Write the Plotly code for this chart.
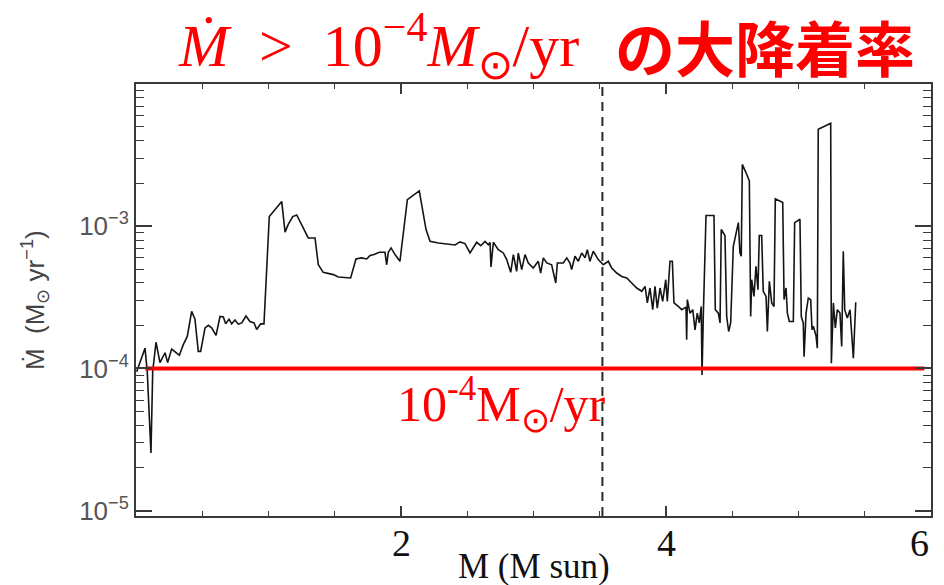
import plotly.graph_objects as go

# Stellar mass (M_sun) along the accretion history
mass = [0.005, 0.068, 0.085, 0.113, 0.126, 0.151, 0.181, 0.219, 0.239, 0.269,
        0.327, 0.357, 0.387, 0.420, 0.445, 0.470, 0.488, 0.521, 0.546, 0.571,
        0.604, 0.634, 0.659, 0.677, 0.702, 0.722, 0.747, 0.772, 0.798, 0.830,
        0.860, 0.891, 0.911, 0.941, 0.966, 1.006, 1.100, 1.125, 1.149, 1.183,
        1.213, 1.251, 1.300, 1.351, 1.376, 1.413, 1.459, 1.489, 1.527, 1.620,
        1.660, 1.703, 1.741, 1.766, 1.796, 1.836, 1.879, 1.892, 1.904, 1.925,
        1.955, 1.992, 2.048, 2.138, 2.189, 2.219, 2.282, 2.408, 2.445, 2.483,
        2.521, 2.571, 2.602, 2.634, 2.659, 2.672, 2.679, 2.697, 2.734, 2.772,
        2.798, 2.828, 2.848, 2.873, 2.885, 2.911, 2.936, 2.961, 2.998, 3.036,
        3.054, 3.074, 3.100, 3.137, 3.168, 3.180, 3.225, 3.251, 3.275, 3.288,
        3.313, 3.338, 3.364, 3.389, 3.406, 3.426, 3.451, 3.489, 3.527, 3.565,
        3.590, 3.628, 3.666, 3.704, 3.741, 3.779, 3.817, 3.842, 3.859, 3.879,
        3.900, 3.917, 3.934, 3.955, 3.975, 3.998, 4.010, 4.030, 4.048, 4.060,
        4.093, 4.119, 4.151, 4.156, 4.161, 4.181, 4.202, 4.219, 4.236, 4.251,
        4.266, 4.272, 4.282, 4.302, 4.362, 4.372, 4.395, 4.408, 4.417, 4.445,
        4.458, 4.473, 4.488, 4.508, 4.546, 4.558, 4.568, 4.576, 4.609, 4.629,
        4.639, 4.647, 4.664, 4.679, 4.694, 4.704, 4.722, 4.734, 4.755, 4.765,
        4.780, 4.798, 4.815, 4.825, 4.881, 4.891, 4.906, 4.916, 4.931, 4.961,
        4.971, 5.011, 5.021, 5.036, 5.042, 5.057, 5.074, 5.092, 5.102, 5.112,
        5.132, 5.142, 5.149, 5.243, 5.248, 5.263, 5.278, 5.293, 5.313, 5.326,
        5.338, 5.349, 5.368, 5.389, 5.414, 5.432]

# Accretion rate in units of 1e-4 M_sun/yr
mdot_e4 = [0.95, 1.39, 0.95, 0.255, 0.95, 1.53, 1.10, 1.29, 1.10, 1.37,
           1.24, 1.47, 1.68, 2.52, 2.22, 1.32, 1.32, 1.93, 2.01, 1.93,
           1.71, 2.32, 2.30, 2.06, 2.22, 2.06, 2.19, 2.05, 2.09, 2.34,
           2.14, 2.09, 1.88, 2.06, 2.06, 11.7, 14.9, 9.1, 10.3, 11.7,
           12.0, 10.3, 8.27, 8.27, 5.36, 4.74, 4.62, 4.57, 4.40, 4.33,
           5.89, 5.99, 5.89, 6.22, 6.32, 6.56, 6.56, 5.36, 6.56, 7.04,
           6.32, 5.67, 15.4, 17.7, 9.48, 7.83, 7.63, 7.38, 7.76, 7.55,
           6.49, 7.71, 7.30, 7.83, 7.40, 7.68, 5.18, 7.71, 6.85, 6.49,
           5.83, 4.74, 6.32, 4.82, 6.49, 4.96, 6.32, 5.52, 5.09, 5.67,
           4.69, 5.99, 5.52, 5.36, 3.99, 5.52, 5.52, 5.99, 5.52, 4.96,
           6.15, 5.67, 6.49, 5.99, 6.85, 5.67, 6.67, 5.83, 5.36, 5.67,
           5.09, 4.69, 4.44, 4.33, 3.99, 3.68, 3.49, 3.78, 2.89, 3.68,
           2.59, 3.78, 2.66, 3.68, 2.96, 4.21, 2.96, 5.67, 5.67, 2.89,
           2.73, 2.59, 2.70, 1.59, 3.05, 2.45, 2.59, 1.87, 2.45, 2.09,
           2.73, 0.90, 2.45, 11.9, 11.9, 2.59, 2.45, 2.09, 9.48, 8.6,
           2.32, 1.82, 2.09, 7.22, 10.6, 6.49, 6.15, 27.2, 23.2, 20.8,
           2.32, 4.21, 3.21, 5.23, 3.58, 8.6, 8.6, 3.49, 3.21, 1.82,
           4.10, 2.89, 2.73, 15.6, 14.7, 3.05, 3.68, 2.45, 2.14, 2.14,
           10.6, 11.2, 2.32, 2.09, 1.21, 2.45, 3.13, 3.05, 1.87, 1.98,
           1.70, 1.39, 48.0, 52.9, 1.09, 2.89, 1.93, 2.59, 2.45, 1.43,
           6.67, 2.59, 2.26, 2.59, 1.18, 2.92]

mdot = [v * 1e-4 for v in mdot_e4]

threshold = 1e-4
threshold_mass = [0.07, 5.95]
dashed_mass = 3.52

x_range = [0, 6]
y_range_log = [-5.037, -2.0]
x_tickvals = [0, 2, 4, 6]
x_labels = ["2", "4", "6"]
x_label_vals = [2, 4, 6]
y_tickvals = [1e-5, 1e-4, 1e-3, 1e-2]
y_ticktext = ["10<sup>\u22125</sup>", "10<sup>\u22124</sup>", "10<sup>\u22123</sup>", ""]
y_minor = [m * 10.0 ** e for e in (-5, -4, -3) for m in range(2, 10)]

axis_col = "#3a3a3a"

fig = go.Figure()
fig.add_trace(go.Scatter(x=mass, y=mdot, mode="lines",
                         line=dict(color="#141414", width=1.6),
                         showlegend=False, hoverinfo="skip"))
fig.add_trace(go.Scatter(x=threshold_mass, y=[threshold, threshold], mode="lines",
                         line=dict(color="#ff0000", width=4),
                         showlegend=False, hoverinfo="skip"))
# invisible trace on mirrored axes (top / right) so their ticks are drawn
fig.add_trace(go.Scatter(x=threshold_mass, y=[threshold, threshold], mode="lines",
                         line=dict(color="rgba(0,0,0,0)", width=0),
                         xaxis="x2", yaxis="y2", showlegend=False, hoverinfo="skip"))

fig.add_shape(type="line", xref="x", yref="paper", x0=dashed_mass, x1=dashed_mass,
              y0=0, y1=1, line=dict(color="#2a2a2a", width=2, dash="9px,6px"))

xcommon = dict(range=x_range, tickmode="array", tickvals=x_tickvals,
               ticks="inside", ticklen=10, tickwidth=1.5, tickcolor=axis_col,
               showline=True, linecolor=axis_col, linewidth=2,
               showgrid=False, zeroline=False, automargin=False, showticklabels=False,
               minor=dict(tickmode="linear", tick0=0, dtick=0.5, ticks="inside",
                          ticklen=5, tickwidth=1.2, tickcolor=axis_col, showgrid=False))
ycommon = dict(type="log", range=y_range_log, tickmode="array", tickvals=y_tickvals,
               ticks="inside", ticklen=16, tickwidth=1.5, tickcolor=axis_col,
               showline=True, linecolor=axis_col, linewidth=2,
               showgrid=False, zeroline=False, automargin=False,
               minor=dict(tickmode="array", tickvals=y_minor, ticks="inside",
                          ticklen=8, tickwidth=1.2, tickcolor=axis_col, showgrid=False))

fig.update_layout(
    xaxis=dict(**xcommon),
    yaxis=dict(**ycommon, ticktext=y_ticktext,
               tickfont=dict(family="Liberation Sans", size=26, color="#555")),
    xaxis2=dict(**xcommon, overlaying="x", side="top"),
    yaxis2=dict(**ycommon, overlaying="y", side="right", showticklabels=False),
)

# x tick labels (serif, as in the reference)
for xv, lab in zip(x_label_vals, x_labels):
    fig.add_annotation(xref="x", yref="paper", x=xv, y=-0.063,
                       xanchor="right" if xv == x_range[1] else "center",
                       yanchor="middle", showarrow=False, text=lab,
                       font=dict(family="Liberation Serif", size=38, color="#111"))

fig.add_annotation(xref="paper", yref="paper", x=0.5, y=-0.118,
                   xanchor="center", yanchor="middle", showarrow=False,
                   text="M (M sun)",
                   font=dict(family="Liberation Serif", size=35, color="#111"))

fig.add_annotation(xref="paper", yref="paper", x=-0.127, y=0.50, textangle=-90,
                   xanchor="center", yanchor="middle",
                   text="\u1E40  (M<sub>\u2299</sub> yr<sup>\u22121</sup>)", showarrow=False,
                   font=dict(family="Liberation Sans", size=26, color="#444"))

fig.add_annotation(xref="x", yref="paper", x=2.76, y=0.257, xanchor="center", yanchor="middle",
                   text="10<sup>-4</sup>M<sub>\u2299</sub>/yr", showarrow=False,
                   font=dict(family="Liberation Serif", size=50, color="#ff0000"))

fig.add_annotation(xref="paper", yref="paper", x=(176 - 136) / 795, y=(516 - 46) / 432,
                   xanchor="left", yanchor="middle", showarrow=False,
                   text="<i>\u1E40</i>  >  10<sup>\u22124</sup><i>M</i><sub>\u2299</sub>/yr",
                   font=dict(family="Liberation Serif", size=60, color="#ff0000"))
fig.add_annotation(xref="paper", yref="paper", x=(917 - 136) / 795, y=(516 - 46) / 432,
                   xanchor="right", yanchor="middle", showarrow=False,
                   text="<b>の大降着率</b>",
                   font=dict(family="Noto Sans CJK JP", size=60, color="#ff0000"))

fig.update_layout(width=944, height=585, margin=dict(l=136, r=13, t=84, b=69),
                  paper_bgcolor="white", plot_bgcolor="white")
fig.write_html("out.html")
